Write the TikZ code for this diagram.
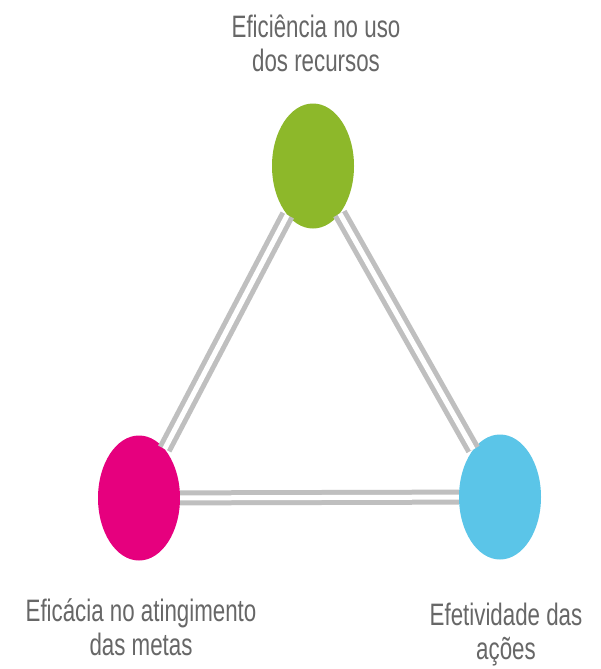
\documentclass[tikz,border=0pt]{standalone}
\usepackage{fontspec}
\setmainfont{Liberation Sans}[FakeStretch=0.72]
\usepackage{tikz}
\usetikzlibrary{positioning, shapes.geometric}

\definecolor{verde}{HTML}{8DB82A}
\definecolor{rosa}{HTML}{E6007E}
\definecolor{azul}{HTML}{5BC5E8}
\definecolor{texto}{HTML}{676767}

\tikzset{
  bola/.style={ellipse, minimum width=82pt, minimum height=125pt, inner sep=0pt},
  rotulo/.style={align=center, text=texto, font=\fontsize{31}{34}\selectfont},
  ligacao/.style={draw=black!25, line width=5pt, double=white, double distance=5pt}
}

\begin{document}
\begin{tikzpicture}[x=1pt, y=-1pt]
      \useasboundingbox[fill=white] (0,0) rectangle (601,669);

      \node[bola, fill=verde] (eficiencia) at (313,166) {};
      \node[bola, fill=rosa] (eficacia) at (139,498) {};
      \node[bola, fill=azul] (efetividade) at (500,497) {};

      \draw[ligacao] (eficiencia) -- (eficacia);
      \draw[ligacao] (eficiencia) -- (efetividade);
      \draw[ligacao] (eficacia) -- (efetividade);

      \node[rotulo] (rot eficiencia) at (316,43) {Efici\^encia no uso\\dos recursos};
      \node[rotulo] (rot eficacia) at (141,627) {Efic\'acia no atingimento\\das metas};
      \node[rotulo] (rot efetividade) at (506,635) {Efetividade das\\a\c{c}\~oes};
    \end{tikzpicture}
\end{document}
